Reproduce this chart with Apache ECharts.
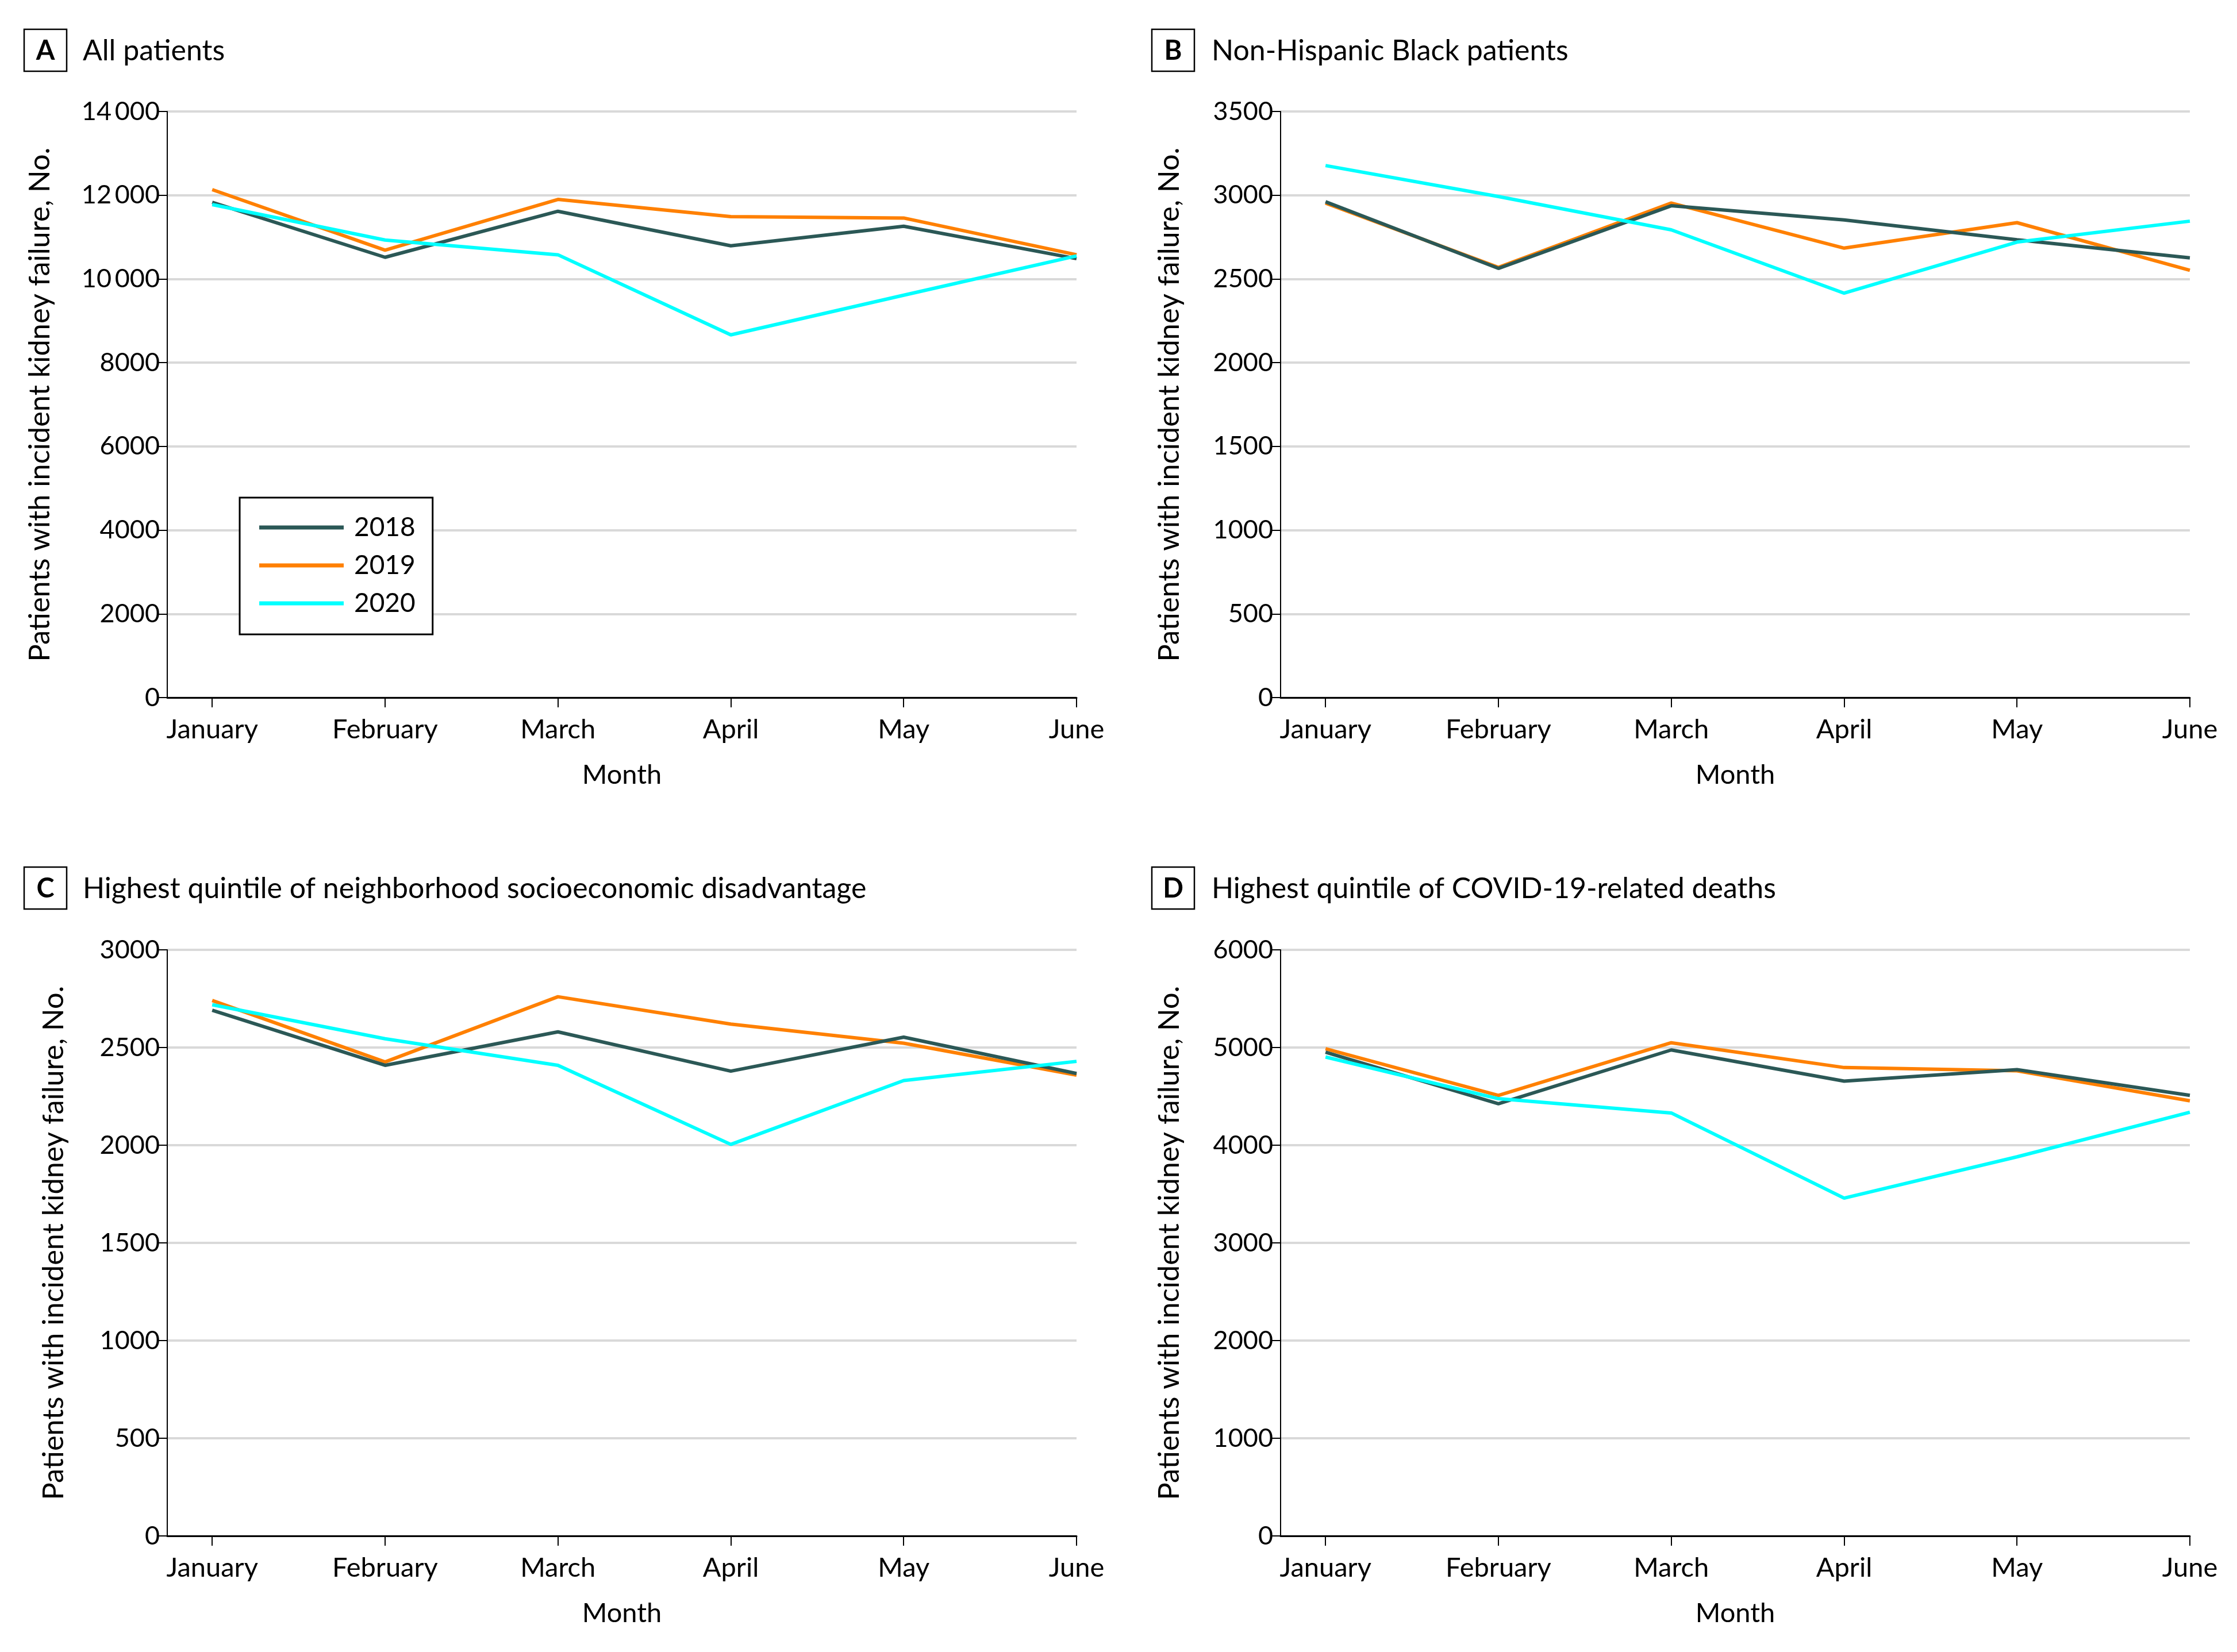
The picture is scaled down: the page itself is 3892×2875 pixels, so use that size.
<!DOCTYPE html>
<html>
<head>
<meta charset="utf-8">
<script src="https://cdn.jsdelivr.net/npm/echarts@6/dist/echarts.min.js"></script>
<style>
html,body{margin:0;padding:0;background:#fff;}
#chart{width:3892px;height:2875px;}
</style>
</head>
<body>
<div id="chart"></div>
<script>
// ---- data ----
const months = ['January', 'February', 'March', 'April', 'May', 'June'];
const years = ['2018', '2019', '2020'];

const panelLetters = ['A', 'B', 'C', 'D'];
const panelTitles = [
  'All patients',
  'Non-Hispanic Black patients',
  'Highest quintile of neighborhood socioeconomic disadvantage',
  'Highest quintile of COVID-19-related deaths'
];

// A: All patients
const allPatients2018 = [11831, 10517, 11616, 10792, 11259, 10485];
const allPatients2019 = [12133, 10686, 11899, 11487, 11455, 10577];
const allPatients2020 = [11776, 10929, 10577, 8664, 9611, 10549];
// B: Non-Hispanic Black patients
const black2018 = [2961, 2563, 2937, 2852, 2734, 2626];
const black2019 = [2953, 2569, 2953, 2684, 2836, 2552];
const black2020 = [3177, 2992, 2793, 2415, 2720, 2845];
// C: Highest quintile of neighborhood socioeconomic disadvantage
const disadv2018 = [2691, 2409, 2580, 2379, 2553, 2367];
const disadv2019 = [2741, 2426, 2760, 2620, 2522, 2359];
const disadv2020 = [2719, 2545, 2409, 2004, 2331, 2429];
// D: Highest quintile of COVID-19-related deaths
const covid2018 = [4952, 4424, 4975, 4656, 4773, 4510];
const covid2019 = [4987, 4510, 5049, 4795, 4762, 4454];
const covid2020 = [4903, 4476, 4330, 3458, 3881, 4337];

// y-axis tick setup per panel
const yMax = [14000, 3500, 3000, 6000];
const yInterval = [2000, 500, 500, 1000];

const panelData = [
  [allPatients2018, allPatients2019, allPatients2020],
  [black2018, black2019, black2020],
  [disadv2018, disadv2019, disadv2020],
  [covid2018, covid2019, covid2020]
];

// ---- styling / layout ----
const FONT = 'Lato';
const colors = {'2018': '#2b5856', '2019': '#ff8000', '2020': '#00ffff'};
const drawOrder = [1, 0, 2]; // 2019 beneath, 2018, 2020 on top

const grids = [
  {left: 291, top: 194, width: 1582, height: 1020},
  {left: 2228, top: 194, width: 1582, height: 1020},
  {left: 291, top: 1653, width: 1582, height: 1020},
  {left: 2228, top: 1653, width: 1582, height: 1020}
];
const yNameGap = [196, 168, 172, 168];
const boxes = [
  {x: 42, y: 51, tx: 144},
  {x: 2004, y: 51, tx: 2108},
  {x: 42, y: 1509, tx: 144},
  {x: 2004, y: 1509, tx: 2108}
];

function fmtY(v) {
  if (v >= 10000) {
    const s = String(v);
    return s.slice(0, s.length - 3) + '\u2009' + s.slice(s.length - 3);
  }
  return String(v);
}

const monthIdx = months.map((m, i) => i);

const xAxes = grids.map((g, i) => ({
  type: 'value',
  gridIndex: i,
  min: -0.26,
  max: 5,
  splitLine: {show: false},
  axisLine: {show: true, onZero: false, lineStyle: {color: '#000', width: 3}},
  axisTick: {show: true, customValues: monthIdx, length: 17, lineStyle: {color: '#000', width: 2}},
  axisLabel: {
    customValues: monthIdx,
    formatter: v => months[Math.round(v)],
    color: '#000', fontFamily: FONT, fontSize: 47, margin: 32
  },
  name: 'Month',
  nameLocation: 'middle',
  nameGap: 111,
  nameTextStyle: {color: '#000', fontFamily: FONT, fontSize: 47}
}));

const yAxes = grids.map((g, i) => ({
  type: 'value',
  gridIndex: i,
  min: 0,
  max: yMax[i],
  interval: yInterval[i],
  axisLine: {show: true, onZero: false, lineStyle: {color: '#000', width: 2}},
  axisTick: {show: true, length: 16, lineStyle: {color: '#000', width: 2}},
  axisLabel: {formatter: fmtY, color: '#000', fontFamily: FONT, fontSize: 45, margin: 13},
  splitLine: {show: true, lineStyle: {color: '#d9d9d9', width: 4}},
  name: 'Patients with incident kidney failure, No.',
  nameLocation: 'middle',
  nameGap: yNameGap[i],
  nameTextStyle: {color: '#000', fontFamily: FONT, fontSize: 50.5}
}));

const series = [];
panelData.forEach((set, p) => {
  drawOrder.forEach(k => {
    series.push({
      type: 'line',
      name: years[k],
      xAxisIndex: p,
      yAxisIndex: p,
      data: set[k].map((v, j) => [j, v]),
      symbol: 'none',
      animation: false,
      lineStyle: {color: colors[years[k]], width: 6},
      itemStyle: {color: colors[years[k]]},
      z: 2 + drawOrder.indexOf(k)
    });
  });
});

const graphic = boxes.map((b, i) => ({
  type: 'group',
  children: [
    {type: 'rect', shape: {x: b.x, y: b.y, width: 74, height: 73},
     style: {fill: '#fff', stroke: '#000', lineWidth: 2.5}},
    {type: 'text', style: {text: panelLetters[i], x: b.x + 37, y: b.y + 38,
      align: 'center', verticalAlign: 'middle', fontFamily: FONT, fontWeight: 'bold', fontSize: 47, fill: '#000'}},
    {type: 'text', style: {text: panelTitles[i], x: b.tx, y: b.y + 38,
      align: 'left', verticalAlign: 'middle', fontFamily: FONT, fontSize: 50, fill: '#000'}}
  ]
}));

const chart = echarts.init(document.getElementById('chart'), null, {renderer: 'canvas'});
chart.setOption({
  backgroundColor: '#fff',
  animation: false,
  grid: grids,
  xAxis: xAxes,
  yAxis: yAxes,
  series: series,
  graphic: graphic,
  legend: {
    data: years,
    orient: 'vertical',
    left: 417,
    top: 866,
    icon: 'rect',
    itemWidth: 147,
    itemHeight: 7,
    itemGap: 20,
    backgroundColor: '#fff',
    borderColor: '#000',
    borderWidth: 3,
    padding: [29, 30, 31, 34],
    selectedMode: false,
    textStyle: {color: '#000', fontFamily: FONT, fontSize: 46, lineHeight: 46, padding: [0, 0, 0, 13]}
  }
});
</script>
</body>
</html>
